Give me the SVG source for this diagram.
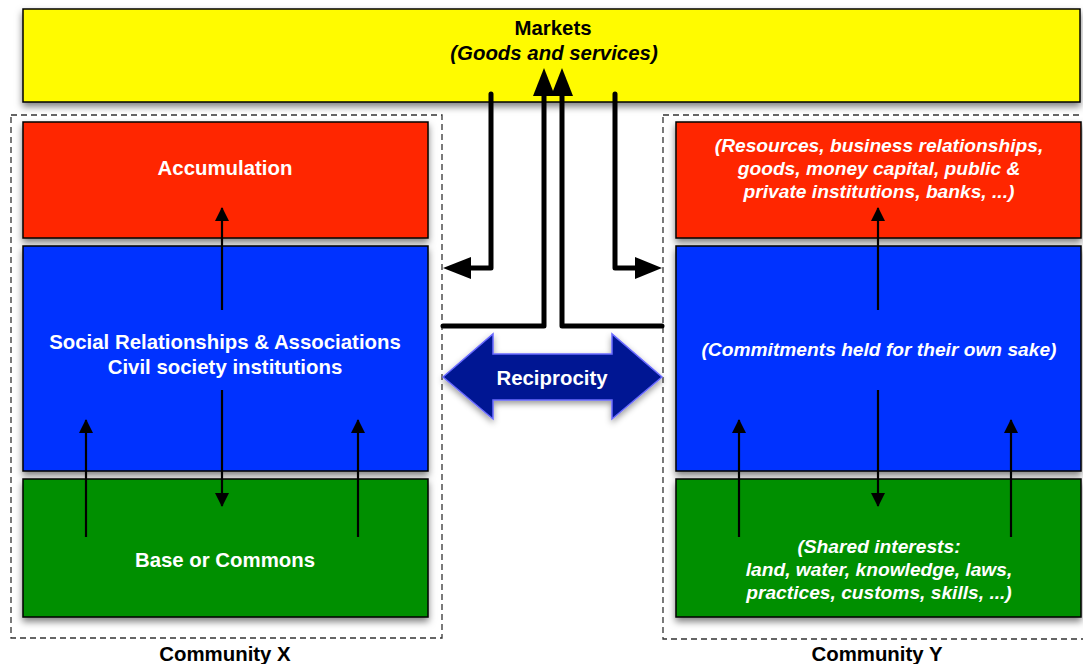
<svg xmlns="http://www.w3.org/2000/svg" width="1083" height="664" viewBox="0 0 1083 664">
<defs>
<filter id="sh" x="-10%" y="-10%" width="120%" height="130%">
<feDropShadow dx="0" dy="4" stdDeviation="3.5" flood-color="#000" flood-opacity="0.5"/>
</filter>
<filter id="sh2" x="-10%" y="-30%" width="120%" height="160%">
<feDropShadow dx="0" dy="3" stdDeviation="3" flood-color="#000" flood-opacity="0.4"/>
</filter>
<marker id="ah" viewBox="0 0 14 18" refX="13" refY="9" markerWidth="14" markerHeight="18" markerUnits="userSpaceOnUse" orient="auto">
<path d="M0,2 L14,9 L0,16 Z" fill="#000"/>
</marker>
</defs>
<style>
.box{stroke:#000;stroke-width:1.5}
.dash{fill:none;stroke:#333;stroke-width:1.3;stroke-dasharray:6,4}
.t{font-family:"Liberation Sans",Arial,sans-serif;font-weight:bold;font-size:20.4px;fill:#fff;text-anchor:middle}
.i{font-family:"Liberation Sans",Arial,sans-serif;font-weight:bold;font-style:italic;font-size:19.2px;fill:#fff;text-anchor:middle}
.k{fill:#000}
.c{stroke:#000;stroke-width:2.2;fill:none;marker-end:url(#ah)}
.m{stroke:#000;stroke-width:5;fill:none;stroke-linejoin:round;stroke-linecap:round}
</style>
<rect width="1083" height="664" fill="#fff"/>

<g id="markets">
<rect class="box" x="23" y="9" width="1057" height="93" fill="#FFFB00" filter="url(#sh)"/>
<text class="t k" x="553" y="35">Markets</text>
<text class="t k" x="554" y="60" font-style="italic">(Goods and services)</text>
</g>

<g id="community-x">
<rect class="dash" x="11" y="115" width="431" height="523"/>
<text class="t k" x="225" y="661">Community X</text>
</g>
<g id="community-y">
<rect class="dash" x="663" y="115" width="440" height="524"/>
<text class="t k" x="877" y="661">Community Y</text>
</g>

<g id="x-accumulation">
<rect class="box" x="23" y="122" width="405" height="116" fill="#FF2600" filter="url(#sh)"/>
<text class="t" x="225" y="175">Accumulation</text>
</g>
<g id="x-social">
<rect class="box" x="23" y="246" width="405" height="225" fill="#0433FF" filter="url(#sh)"/>
<text class="t" x="225" y="349">Social Relationships &amp; Associations</text>
<text class="t" x="225" y="374">Civil society institutions</text>
</g>
<g id="x-base">
<rect class="box" x="23" y="479" width="405" height="138" fill="#008F00" filter="url(#sh)"/>
<text class="t" x="225" y="567">Base or Commons</text>
</g>

<g id="y-resources">
<rect class="box" x="676" y="122" width="405" height="116" fill="#FF2600" filter="url(#sh)"/>
<text class="i" x="879" y="152">(Resources, business relationships,</text>
<text class="i" x="879" y="175">goods, money capital, public &amp;</text>
<text class="i" x="879" y="198">private institutions, banks, ...)</text>
</g>
<g id="y-commitments">
<rect class="box" x="676" y="246" width="405" height="225" fill="#0433FF" filter="url(#sh)"/>
<text class="i" x="879" y="356">(Commitments held for their own sake)</text>
</g>
<g id="y-shared">
<rect class="box" x="676" y="479" width="405" height="138" fill="#008F00" filter="url(#sh)"/>
<text class="i" x="879" y="553">(Shared interests:</text>
<text class="i" x="879" y="576">land, water, knowledge, laws,</text>
<text class="i" x="879" y="599">practices, customs, skills, ...)</text>
</g>

<g id="reciprocity">
<path d="M443,377 L493,334 L493,354 L612,354 L612,334 L662,377 L612,419 L612,400 L493,400 L493,419 Z" fill="#011993" stroke="#6A6AFF" stroke-width="1.5" filter="url(#sh2)"/>
<text class="t" x="552" y="385" font-size="19px">Reciprocity</text>
</g>

<g id="connectors">
<line class="c" x1="222" y1="310" x2="222" y2="208"/>
<line class="c" x1="222" y1="390" x2="222" y2="506"/>
<line class="c" x1="86" y1="537" x2="86" y2="420"/>
<line class="c" x1="358" y1="537" x2="358" y2="420"/>
<line class="c" x1="878" y1="310" x2="878" y2="208"/>
<line class="c" x1="878" y1="390" x2="878" y2="506"/>
<line class="c" x1="739" y1="537" x2="739" y2="420"/>
<line class="c" x1="1011" y1="537" x2="1011" y2="420"/>

<path class="m" d="M491,94 V268 H468"/>
<polygon points="471,257 471,279 443,268" fill="#000"/>
<path class="m" d="M615,94 V268 H638"/>
<polygon points="635,257 635,279 662,268" fill="#000"/>
<path class="m" d="M443,326 H544 V92"/>
<polygon points="533,96 555,96 544,68" fill="#000"/>
<path class="m" d="M662,326 H562 V92"/>
<polygon points="551,96 573,96 562,68" fill="#000"/>
</g>
</svg>
